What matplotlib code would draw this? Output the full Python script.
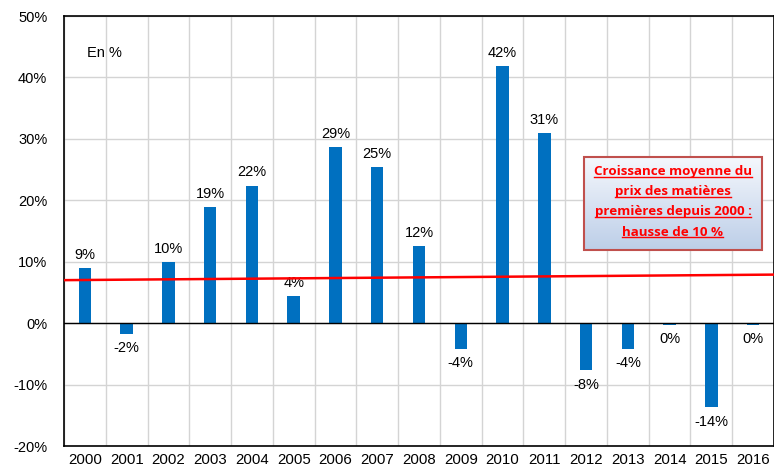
import numpy as np
import matplotlib
matplotlib.use("Agg")
import matplotlib.pyplot as plt
from matplotlib.lines import Line2D
from matplotlib.patches import Rectangle

years = [str(y) for y in range(2000, 2017)]
growth = [9.0, -1.7, 9.9, 18.9, 22.4, 4.4, 28.7, 25.4, 12.5, -4.2, 41.8, 30.9, -7.7, -4.2, -0.3, -13.7, -0.3]
labels = ["9%", "-2%", "10%", "19%", "22%", "4%", "29%", "25%", "12%", "-4%",
          "42%", "31%", "-8%", "-4%", "0%", "-14%", "0%"]
trend_start = 7.0
trend_end = 7.9
box_lines = ["Croissance moyenne du", "prix des matières",
             "premières depuis 2000 :", "hausse de 10 %"]

plt.rcParams['font.family'] = ['Liberation Sans', 'DejaVu Sans']

fig = plt.figure(figsize=(7.74, 4.66), dpi=100)
ax = fig.add_axes([64/774, 20/466, 710/774, 430/466])

x = np.arange(len(years))
ax.bar(x, growth, width=0.3, color="#0070C0", zorder=3)

for xi, v, lab in zip(x, growth, labels):
    if v > 0:
        ax.text(xi, v + 1.0, lab, ha="center", va="bottom", fontsize=10.5)
    else:
        ax.text(xi, v - 1.2, lab, ha="center", va="top", fontsize=10.5)

ax.plot([-0.5, len(years) - 0.5], [trend_start, trend_end], color="red", lw=1.8, zorder=4)
ax.axhline(0, color="black", lw=1.0, zorder=3)

ax.set_xlim(-0.5, len(years) - 0.5)
ax.set_ylim(-20, 50)
ax.set_yticks(range(-20, 51, 10))
ax.set_yticklabels([f"{t}%" for t in range(-20, 51, 10)], fontsize=10.5)
ax.set_xticks(x)
ax.set_xticklabels(years, fontsize=10.8)
ax.set_xticks(np.arange(-0.5, len(years), 1), minor=True)
ax.tick_params(axis="both", which="both", length=0)
ax.tick_params(axis="y", pad=12)
ax.tick_params(axis="x", pad=5)
ax.grid(axis="y", which="major", color="#d4d4d4", lw=1, zorder=0)
ax.grid(axis="x", which="minor", color="#d4d4d4", lw=1, zorder=0)
ax.grid(axis="x", which="major", visible=False)
for s in ax.spines.values():
    s.set_color("black")
    s.set_linewidth(1.2)

ax.text(0.033, 0.915, "En %", transform=ax.transAxes, fontsize=10.5, va="center")

# box with gradient
bx0, bx1 = 584/774, 762/774
by0, by1 = 1 - 250/466, 1 - 157/466
grad = np.linspace(0, 1, 100).reshape(-1, 1)
top_c = np.array([0.96, 0.97, 0.99])
bot_c = np.array([0.74, 0.81, 0.91])
img = top_c * (1 - grad[..., None]) + bot_c * grad[..., None]
fig.add_artist(Rectangle((bx0, by0), bx1 - bx0, by1 - by0, transform=fig.transFigure,
                         facecolor="none", edgecolor="#c0504d", lw=1.5, zorder=6))
iax = fig.add_axes([bx0, by0, bx1 - bx0, by1 - by0], zorder=5)
iax.imshow(np.repeat(img, 10, axis=1), aspect="auto", extent=[0, 1, 0, 1])
iax.set_axis_off()

texts = []
for i, line in enumerate(box_lines):
    yy = 1 - (172 + 20 * i) / 466
    t = fig.text((bx0 + bx1) / 2, yy, line, ha="center", va="center", color="red",
                 fontsize=9.6, fontweight="bold", family=["Open Sans", "DejaVu Sans"], zorder=7)
    texts.append(t)

fig.canvas.draw()
r = fig.canvas.get_renderer()
inv = fig.transFigure.inverted()
for t in texts:
    bb = t.get_window_extent(r)
    (fx0, fy0), (fx1, fy1) = inv.transform([[bb.x0, bb.y0 + 2], [bb.x1, bb.y0 + 2]])
    fig.add_artist(Line2D([fx0, fx1], [fy0, fy1], color="red", lw=1.0, transform=fig.transFigure, zorder=7))

fig.savefig("out.png", dpi=100)
